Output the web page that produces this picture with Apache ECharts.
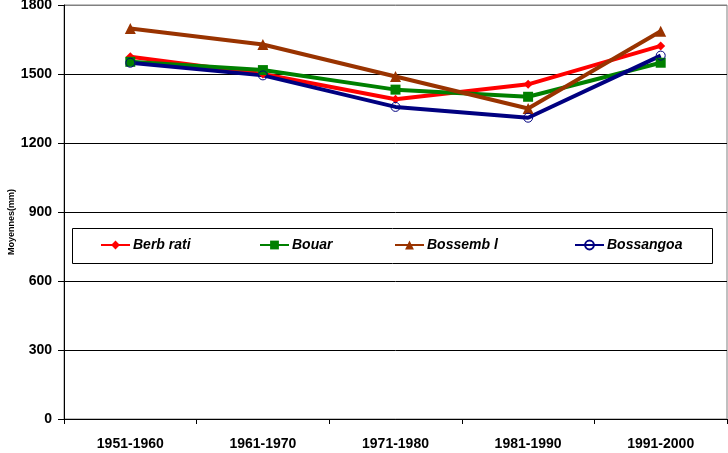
<!DOCTYPE html>
<html><head><meta charset="utf-8">
<script src="https://cdn.jsdelivr.net/npm/echarts@6/dist/echarts.min.js"></script>
<style>html,body{margin:0;padding:0;background:#fff}#c{width:728px;height:453px}</style>
</head><body><div id="c"></div>
<script>
var categories = ['1951-1960','1961-1970','1971-1980','1981-1990','1991-2000'];
var seriesNames = ['Berb rati','Bouar','Bossemb l','Bossangoa'];
var berberati = [1575, 1500, 1390, 1455, 1622];
var bouar = [1553, 1517, 1432, 1401, 1549];
var bossembele = [1698, 1628, 1489, 1350, 1686];
var bossangoa = [1549, 1494, 1357, 1310, 1580];
var yTicks = [0, 300, 600, 900, 1200, 1500, 1800];
var yTitle = 'Moyennes(mm)';

var FONT = '"Liberation Sans", Arial, sans-serif';
var chart = echarts.init(document.getElementById('c'), null, {renderer:'canvas'});
function mk(name, data, color, symbol, size, hollow){
  return {
    name: name, type: 'line', data: data, symbol: symbol, symbolSize: size,
    color: color,
    lineStyle: {color: color, width: 4},
    itemStyle: hollow ? {color: 'rgba(255,255,255,0)', borderColor: color, borderWidth: 1} : {color: color},
    emphasis: {disabled: true}, animation: false
  };
}
var legendLefts = [100, 259, 394, 574];
var legends = seriesNames.map(function(n, i){
  return {
    data: [n], left: legendLefts[i], top: 238, itemWidth: 29, itemHeight: 11, itemGap: 0,
    padding: 0, z: 10, selectedMode: false,
    textStyle: {fontFamily: FONT, fontSize: 14, fontWeight: 'bold', fontStyle: 'italic', color: '#000', padding:[0,0,0,-2]}
  };
});
chart.setOption({
  animation: false,
  backgroundColor: '#fff',
  grid: {left: 64, right: 1, top: 5, bottom: 34, show: true, borderColor: '#808080', borderWidth: 1,
         containLabel: false, outerBoundsMode: 'none'},
  legend: legends,
  graphic: [
    {type: 'rect', z: 5, shape: {x: 72.5, y: 228.5, width: 640, height: 35}, style: {fill: '#fff', stroke: '#000', lineWidth: 1}},
    {type: 'text', z: 5, x: 12, y: 222, rotation: Math.PI / 2,
     style: {text: yTitle, fontFamily: FONT, fontSize: 9, fontWeight: 'bold', fill: '#000', align: 'center', verticalAlign: 'middle'}}
  ],
  xAxis: {
    type: 'category', data: categories, boundaryGap: true,
    axisLine: {lineStyle: {color: '#000', width: 1}},
    axisTick: {show: true, length: 5, lineStyle: {color: '#000'}},
    axisLabel: {margin: 18, fontFamily: FONT, fontSize: 14, fontWeight: 'bold', color: '#000'}
  },
  yAxis: {
    type: 'value', min: yTicks[0], max: yTicks[yTicks.length-1], interval: 300,
    axisLine: {show: true, lineStyle: {color: '#000', width: 1}},
    axisTick: {show: true, length: 6, lineStyle: {color: '#000'}},
    axisLabel: {margin: 12, fontFamily: FONT, fontSize: 14, fontWeight: 'bold', color: '#000',
                formatter: function(v){ return String(v); }},
    splitLine: {show: true, lineStyle: {color: ['#000','#000','#000','#000','#000','#000','#808080'], width: 1}}
  },
  series: [
    mk(seriesNames[0], berberati, '#FF0000', 'diamond', 9, false),
    mk(seriesNames[1], bouar, '#008000', 'rect', 10, false),
    mk(seriesNames[2], bossembele, '#993300', 'triangle', 11, false),
    mk(seriesNames[3], bossangoa, '#000080', 'circle', 9, true)
  ]
});
</script></body></html>
